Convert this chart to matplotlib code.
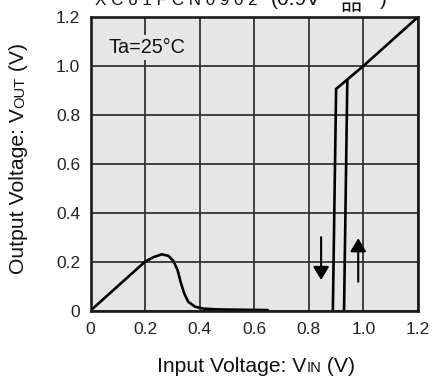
import matplotlib
matplotlib.use("Agg")
from matplotlib import pyplot as plt

# Hump seen at low input voltage (read point by point)
hump_vin = [0.0, 0.10, 0.145, 0.20, 0.230, 0.261, 0.285, 0.303, 0.319, 0.330,
            0.343, 0.358, 0.383, 0.413, 0.462, 0.51, 0.58, 0.65]
hump_vout = [0.0, 0.10, 0.145, 0.20, 0.218, 0.230, 0.224, 0.204, 0.166, 0.118,
             0.071, 0.036, 0.016, 0.008, 0.005, 0.004, 0.003, 0.002]

# Falling edge (release) and rising edge (detect) branches
fall_vin = [0.888, 0.900, 1.0, 1.2]
fall_vout = [0.0, 0.906, 1.0, 1.2]
rise_vin = [0.929, 0.941]
rise_vout = [0.0, 0.938]

# Arrows showing sweep direction: (x, y_start, y_end)
down_arrow = (0.845, 0.30, 0.125)
up_arrow = (0.981, 0.118, 0.296)

x_ticks = [0.0, 0.2, 0.4, 0.6, 0.8, 1.0, 1.2]
x_tick_labels = ["0", "0.2", "0.4", "0.6", "0.8", "1.0", "1.2"]
y_ticks = [0.0, 0.2, 0.4, 0.6, 0.8, 1.0, 1.2]
y_tick_labels = ["0", "0.2", "0.4", "0.6", "0.8", "1.0", "1.2"]

FONT = ["Liberation Sans", "Noto Sans CJK JP", "DejaVu Sans"]
plt.rcParams["font.family"] = FONT
INK = "#111111"

W, H = 436, 378
fig = plt.figure(figsize=(W / 100, H / 100), dpi=100)
renderer = fig.canvas.get_renderer()
ax = fig.add_axes([90.5 / W, 1 - 310.6 / H, 327.5 / W, 293.6 / H])
ax.set_facecolor("#e6e6e6")

ax.plot(hump_vin, hump_vout, color="black", lw=1.9, solid_capstyle="round")
ax.plot(fall_vin, fall_vout, color="black", lw=1.9, solid_joinstyle="miter")
ax.plot(rise_vin, rise_vout, color="black", lw=1.9)

for x, y0, y1 in (down_arrow, up_arrow):
    ax.annotate("", xy=(x, y1), xytext=(x, y0),
                arrowprops=dict(arrowstyle="-|>,head_length=0.5,head_width=0.3",
                                color="black", lw=1.5,
                                mutation_scale=16, shrinkA=0, shrinkB=0))

ax.set_xlim(0, 1.2)
ax.set_ylim(0, 1.2)
ax.set_xticks(x_ticks)
ax.set_xticklabels(x_tick_labels)
ax.set_yticks(y_ticks)
ax.set_yticklabels(y_tick_labels)
ax.tick_params(length=0, labelsize=12.5, colors="#222222")
ax.tick_params(axis="x", pad=8)
ax.tick_params(axis="y", pad=7.5)
ax.grid(True, color="#333333", lw=1.3)
ax.set_axisbelow(True)
for side in ax.spines.values():
    side.set_linewidth(1.9)
    side.set_color("#1a1a1a")

ax.text(0.207, 1.076, "Ta=25\u00b0C", ha="center", va="center", fontsize=14.3,
        color=INK, bbox=dict(facecolor="#e6e6e6", edgecolor="none", pad=2))


def fitted_text(x0, x1, y, s, fs=12.0):
    # place text with its left edge at x0 and scale it to end at x1 (pixels)
    t = fig.text(x0 / W, 1 - y / H, s, ha="left", va="baseline",
                 fontsize=fs, color=INK)
    width = t.get_window_extent(renderer).width
    t.set_fontsize(fs * (x1 - x0) / width)
    return t


# Part number heading along the top edge
fitted_text(95, 258, 5, "X C 6 1 F C N 0 9 0 2")
paren = fitted_text(271, 321, 5, "(0.9V")
fitted_text(340, 361, 10, "\u54c1")
fig.text(380 / W, 1 - 5 / H, ")", ha="left", va="baseline",
         fontsize=paren.get_fontsize(), color=INK)


def piece_label(pieces, x, y, rotation=0):
    # axis label with small-cap subscripts, laid out piece by piece
    pos = 0.0
    for txt, size in pieces:
        if rotation == 0:
            t = fig.text((x + pos) / W, y / H, txt, fontsize=size, ha="left",
                         va="baseline", color=INK)
        else:
            t = fig.text(x / W, (y + pos) / H, txt, fontsize=size, ha="left",
                         va="baseline", rotation=90, rotation_mode="anchor",
                         color=INK)
        bb = t.get_window_extent(renderer)
        pos += bb.width if rotation == 0 else bb.height


big, small = 15.2, 10.6
piece_label([("Input Voltage: V", big), ("IN", small), (" (V)", big)],
            157, H - 371.7)
piece_label([("Output Voltage: V", big), ("OUT", small), (" (V)", big)],
            24, H - 274, rotation=90)

fig.savefig("out.png", dpi=100)
